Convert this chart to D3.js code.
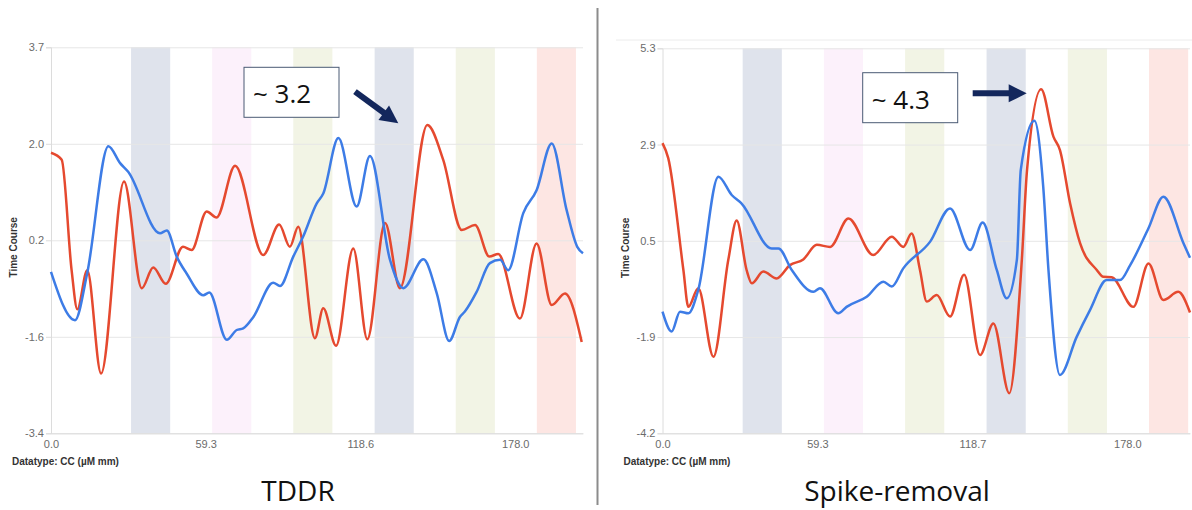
<!DOCTYPE html>
<html>
<head>
<meta charset="utf-8">
<script src="https://cdn.jsdelivr.net/npm/d3@7"></script>
<style>
  html, body { margin: 0; padding: 0; background: #fff; }
  svg { display: block; }
</style>
</head>
<body>
<div id="chart"></div>
<script>
// shaded stimulus blocks (same for both panels), in x units
const bandStarts = [30.7, 61.8, 92.9, 124.1, 155.2, 186.3]
const bandWidth = 15
const bandColors = ['#dfe3ec', '#fcf1fb', '#f2f4e5', '#dfe3ec', '#f2f4e5', '#fde6e3']

// TDDR panel
const tddrXTicks = [0, 59.3, 118.6, 178.0]
const tddrXLabels = ['0.0', '59.3', '118.6', '178.0']
const tddrYLabels = ['-3.4', '-1.6', '0.2', '2.0', '3.7']
const tddrRed = [
  [0, 1.76], [4.1, 1.63], [7.9, -0.40], [10.1, -1.12], [13.9, -0.40], [19.2, -2.30],
  [28.0, 1.23], [34.8, -0.73], [39.2, -0.35], [44.0, -0.65], [50.6, 0.03], [53.9, -0.03],
  [59.7, 0.68], [63.5, 0.57], [70.6, 1.52], [81.4, -0.12], [87.5, 0.44], [91.6, 0.03],
  [94.8, 0.40], [101.2, -1.65], [104.4, -1.10], [109.3, -1.79], [115.9, 0.00], [121.3, -1.67],
  [128.1, 0.47], [133.8, -0.73], [144.3, 2.27], [150.4, 1.63], [157.5, 0.34], [162.6, 0.43],
  [168.1, -0.15], [171.5, -0.10], [179.8, -1.29], [186.2, 0.09], [192.0, -1.04], [197.1, -0.83],
  [203.5, -1.72]
]
const tddrBlue = [
  [0, -0.43], [9.2, -1.32], [13.9, -0.45], [22.0, 1.88], [26.5, 1.57], [29.6, 1.41],
  [41.8, 0.28], [44.4, 0.33], [48.2, -0.15], [52.0, -0.46], [58.4, -0.86], [60.7, -0.81],
  [67.4, -1.68], [71.2, -1.50], [73.7, -1.47], [77.6, -1.26], [85.2, -0.63], [87.8, -0.69],
  [92.9, -0.15], [96.7, 0.22], [101.9, 0.83], [104.4, 1.01], [110.2, 2.03], [117.2, 0.77],
  [122.3, 1.70], [130.0, -0.21], [135.1, -0.73], [142.8, -0.20], [147.9, -0.82], [152.7, -1.70],
  [156.8, -1.26], [158.7, -1.16], [163.2, -0.80], [168.3, -0.27], [172.2, -0.21], [175.3, -0.40],
  [181.1, 0.65], [186.2, 1.07], [192.0, 1.93], [197.7, 0.71], [201.8, 0.03], [204.0, -0.09]
]

// Spike-removal panel
const spikeXTicks = [0, 59.3, 118.7, 178.0]
const spikeXLabels = ['0.0', '59.3', '118.7', '178.0']
const spikeYLabels = ['-4.2', '-1.9', '0.5', '2.9', '5.3']
const spikeRed = [
  [0, 2.96], [2.2, 2.59], [8.0, -0.17], [9.9, -1.08], [13.7, -0.62], [19.5, -2.31],
  [25.2, 0.08], [28.4, 1.05], [32.2, -0.17], [34.2, -0.50], [38.6, -0.21], [43.7, -0.38],
  [48.8, -0.05], [53.9, 0.09], [59.1, 0.45], [64.2, 0.40], [71.2, 1.10], [80.7, 0.20],
  [87.8, 0.65], [92.2, 0.40], [95.4, 0.73], [98.6, -0.17], [101.2, -0.95], [105.0, -0.79],
  [110.1, -1.32], [115.5, -0.29], [121.6, -2.27], [126.7, -1.49], [132.8, -3.21], [137.6, 0.08],
  [139.6, 2.30], [145.0, 4.29], [149.7, 3.12], [152.2, 2.79], [156.1, 1.47], [159.9, 0.49],
  [166.3, -0.17], [168.8, -0.34], [172.0, -0.35], [180.3, -1.08], [186.1, -0.01], [191.8, -0.91],
  [197.5, -0.71], [202.0, -1.22]
]
const spikeBlue = [
  [0, -1.20], [3.5, -1.69], [6.7, -1.20], [9.9, -1.24], [13.7, -0.66], [21.4, 2.13],
  [26.5, 1.68], [30.3, 1.47], [41.8, 0.36], [44.4, 0.36], [49.5, -0.17], [57.8, -0.71],
  [60.3, -0.62], [67.3, -1.24], [70.5, -1.08], [78.2, -0.83], [84.6, -0.46], [87.8, -0.58],
  [92.2, -0.13], [102.5, 0.53], [110.1, 1.35], [117.8, 0.32], [122.6, 1.00], [128.0, -0.17],
  [131.8, -0.87], [135.7, 0.08], [137.2, 2.30], [142.4, 3.51], [145.8, 1.88], [147.8, -0.17],
  [152.2, -2.76], [158.6, -1.82], [163.7, -1.16], [170.1, -0.42], [175.2, -0.42], [179.1, -0.05],
  [186.1, 0.86], [191.8, 1.64], [199.5, 0.49], [202.0, 0.13]
]

const W = 1192, H = 510
const redColor = '#e5492f'
const blueColor = '#3d7ce6'
const navy = '#13275c'

const panels = [
  {
    name: 'TDDR', x0: 51, x1: 583, xMax: 204, yMin: -3.4, yMax: 3.7, top: 47.3, bottom: 433.3,
    xTicks: tddrXTicks, xLabels: tddrXLabels, yLabels: tddrYLabels,
    red: tddrRed, blue: tddrBlue, captionX: 298,
    note: '~ 3.2', box: [244, 67.3, 95, 50], arrow: [[355, 91.7], [398.3, 123.3]]
  },
  {
    name: 'Spike-removal', x0: 662.5, x1: 1190, xMax: 202, yMin: -4.2, yMax: 5.3, top: 48.3, bottom: 433.3,
    xTicks: spikeXTicks, xLabels: spikeXLabels, yLabels: spikeYLabels,
    red: spikeRed, blue: spikeBlue, captionX: 897,
    note: '~ 4.3', box: [862.7, 72.7, 95, 50], arrow: [[972.7, 93.3], [1026.7, 93.3]]
  }
]

const svg = d3.select('#chart').append('svg')
  .attr('width', W)
  .attr('height', H)
  .attr('viewBox', [0, 0, W, H])

// separator between the two screenshots
svg.append('line')
  .attr('x1', 597.5).attr('x2', 597.5).attr('y1', 8).attr('y2', 505)
  .attr('stroke', '#8c8c8c').attr('stroke-width', 2)

// faint frame line above the right panel
svg.append('line')
  .attr('x1', 616).attr('x2', W).attr('y1', 40).attr('y2', 40)
  .attr('stroke', '#ececec').attr('stroke-width', 1)

const drawArrow = (g, [from, to], shaft, headLen, headHalf) => {
  const dx = to[0] - from[0], dy = to[1] - from[1]
  const len = Math.hypot(dx, dy)
  const ux = dx / len, uy = dy / len
  const bx = to[0] - ux * headLen, by = to[1] - uy * headLen
  g.append('line')
    .attr('x1', from[0]).attr('y1', from[1])
    .attr('x2', bx + ux).attr('y2', by + uy)
    .attr('stroke', navy).attr('stroke-width', shaft)
  g.append('path')
    .attr('d', `M${to[0]},${to[1]} L${bx - uy * headHalf},${by + ux * headHalf} L${bx + uy * headHalf},${by - ux * headHalf} Z`)
    .attr('fill', navy)
}

panels.forEach(p => {
  const x = d3.scaleLinear().domain([0, p.xMax]).range([p.x0, p.x1])
  const y = d3.scaleLinear().domain([p.yMin, p.yMax]).range([p.bottom, p.top])
  const yTicks = d3.range(5).map(i => p.yMin + i * (p.yMax - p.yMin) / 4)
  const g = svg.append('g').attr('class', 'panel')

  // stimulus bands
  g.append('g').selectAll('rect')
    .data(bandStarts)
    .join('rect')
      .attr('x', d => x(d))
      .attr('y', p.top)
      .attr('width', d => x(d + bandWidth) - x(d))
      .attr('height', p.bottom - p.top)
      .attr('fill', (d, i) => bandColors[i])

  // horizontal grid
  g.append('g')
    .attr('transform', `translate(${p.x0},0)`)
    .call(d3.axisLeft(y).tickValues(yTicks).tickSize(-(p.x1 - p.x0)).tickFormat(''))
    .call(a => a.select('.domain').remove())
    .call(a => a.selectAll('line').attr('stroke', '#e6e6e6'))

  // y axis
  g.append('g')
    .attr('transform', `translate(${p.x0},0)`)
    .call(d3.axisLeft(y).tickValues(yTicks).tickSize(5).tickPadding(2).tickFormat((d, i) => p.yLabels[i]))
    .call(a => a.select('.domain').attr('stroke', '#dcdcdc'))
    .call(a => a.selectAll('line').attr('stroke', '#dcdcdc'))
    .call(a => a.selectAll('text')
      .attr('fill', '#6b6b6b')
      .style('font', '11px "Liberation Sans", Arial, sans-serif'))

  // x axis
  g.append('g')
    .attr('transform', `translate(0,${p.bottom})`)
    .call(d3.axisBottom(x).tickValues(p.xTicks).tickSize(0).tickPadding(7).tickFormat((d, i) => p.xLabels[i]))
    .call(a => a.select('.domain').attr('stroke', '#dcdcdc'))
    .call(a => a.selectAll('text')
      .attr('fill', '#6b6b6b')
      .style('font', '11px "Liberation Sans", Arial, sans-serif'))

  // series
  const line = d3.line()
    .x(d => x(d[0]))
    .y(d => y(d[1]))
    .curve(d3.curveMonotoneX)

  g.append('path')
    .datum(p.red)
    .attr('d', line)
    .attr('fill', 'none')
    .attr('stroke', redColor)
    .attr('stroke-width', 2.5)
    .attr('stroke-linejoin', 'round')

  g.append('path')
    .datum(p.blue)
    .attr('d', line)
    .attr('fill', 'none')
    .attr('stroke', blueColor)
    .attr('stroke-width', 2.5)
    .attr('stroke-linejoin', 'round')

  // axis titles
  g.append('text')
    .attr('transform', `translate(${p.x0 - 34},${(p.top + p.bottom) / 2 + 7}) rotate(-90)`)
    .attr('text-anchor', 'middle')
    .attr('fill', '#333')
    .style('font', 'bold 10px "Liberation Sans", Arial, sans-serif')
    .text('Time Course')

  g.append('text')
    .attr('x', p.x0 - 39)
    .attr('y', p.bottom + 32)
    .attr('fill', '#333')
    .style('font', 'bold 10px "Liberation Sans", Arial, sans-serif')
    .text('Datatype: CC (µM mm)')

  // caption
  g.append('text')
    .attr('x', p.captionX)
    .attr('y', 501)
    .attr('text-anchor', 'middle')
    .attr('fill', '#111')
    .style('font', '28px "Open Sans", sans-serif')
    .text(p.name)

  // annotation box + arrow
  const [bx, by, bw, bh] = p.box
  g.append('rect')
    .attr('x', bx).attr('y', by).attr('width', bw).attr('height', bh)
    .attr('fill', '#fff')
    .attr('stroke', '#4a5a74')
    .attr('stroke-width', 1)
  g.append('text')
    .attr('x', bx + 9)
    .attr('y', by + 36)
    .attr('fill', '#111')
    .style('font', '26px "Open Sans", sans-serif')
    .text(p.note)

  drawArrow(g, p.arrow, 6, 18, 9)
})
</script>
</body>
</html>
